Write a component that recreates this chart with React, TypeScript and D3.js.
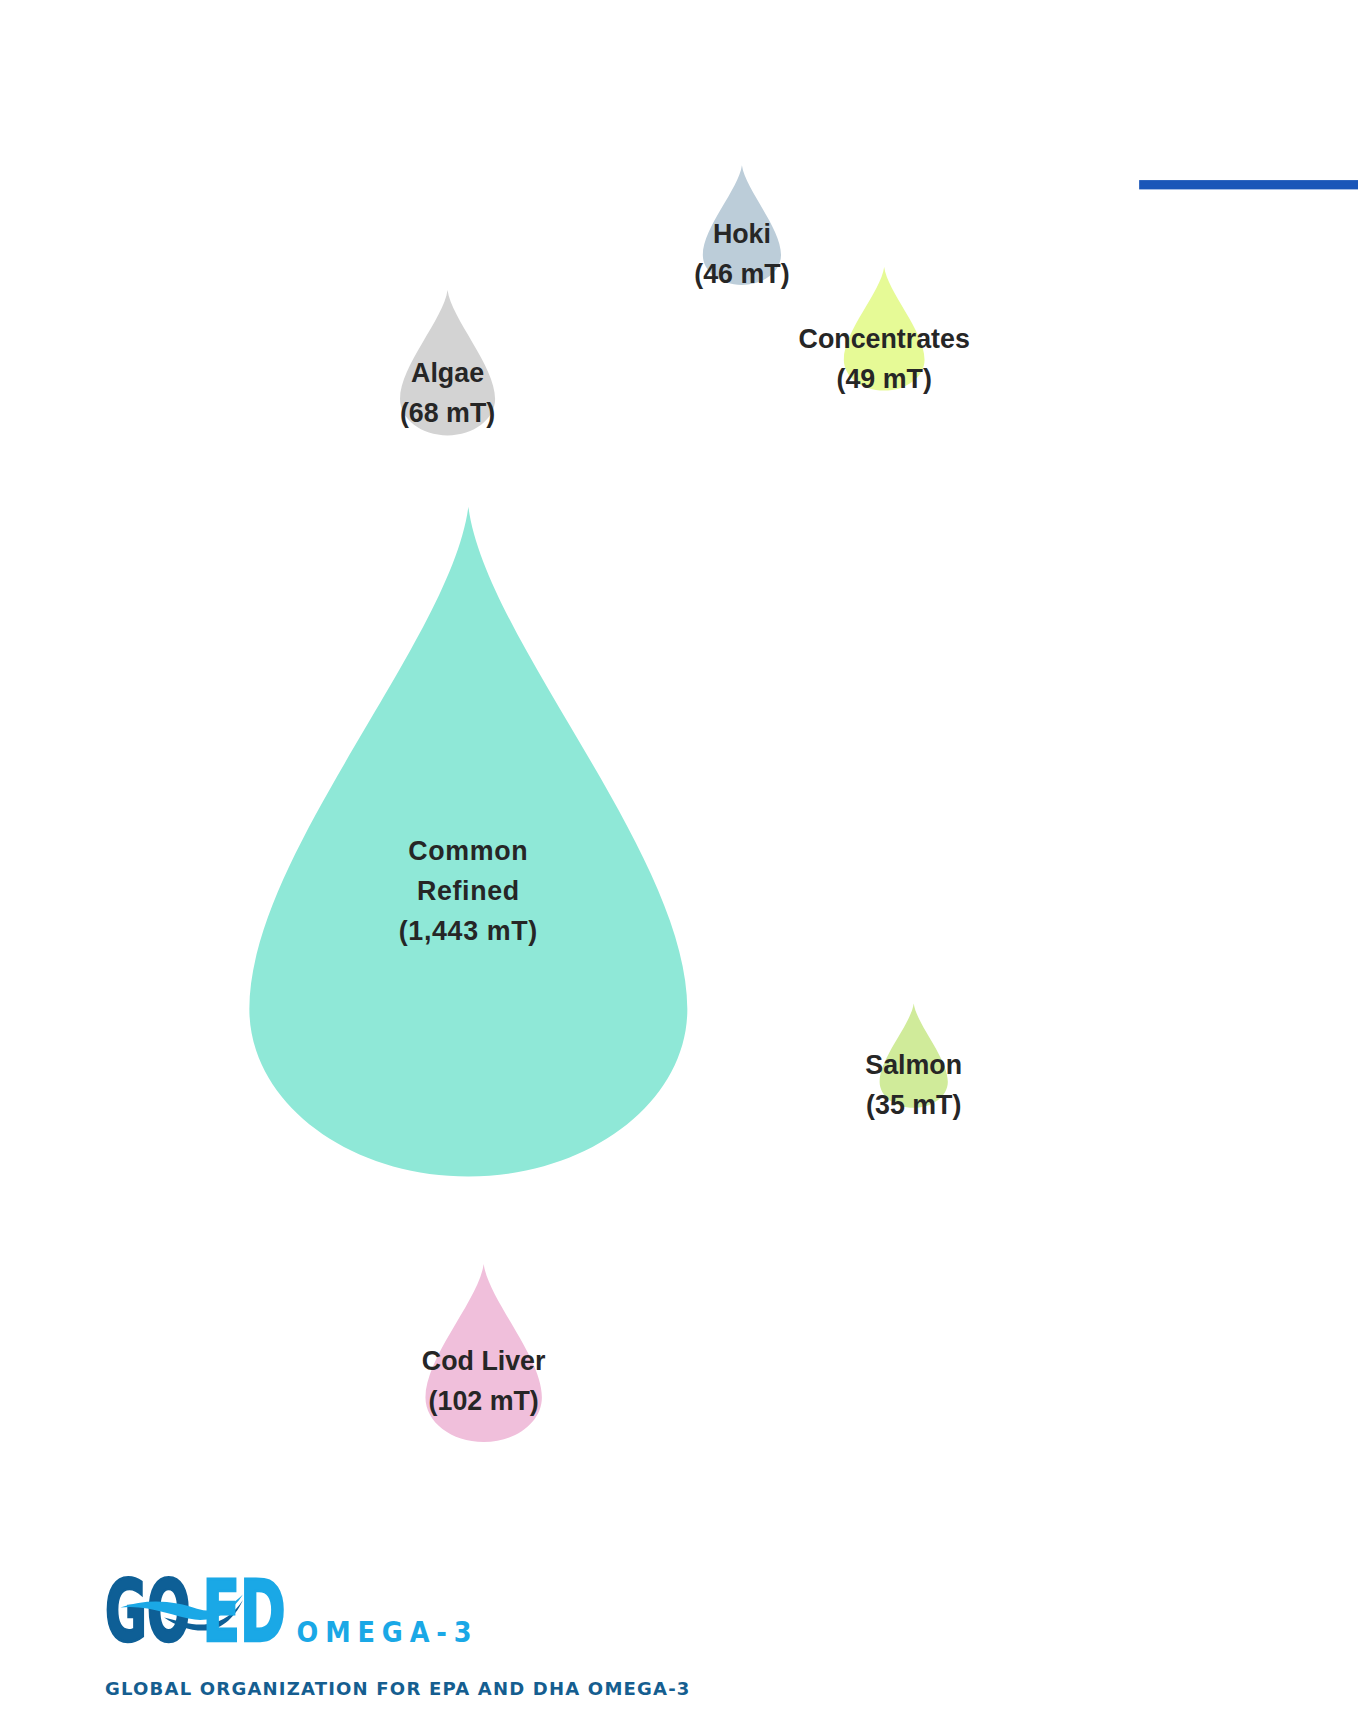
import React from "react";
import * as d3 from "d3";

// ---- data ----
const categories = ["Hoki", "Concentrates", "Algae", "Common Refined", "Salmon", "Cod Liver"];
const volumes = [46, 49, 68, 1443, 35, 102]; // metric tonnes (mT)
const nameLines = [["Hoki"], ["Concentrates"], ["Algae"], ["Common", "Refined"], ["Salmon"], ["Cod Liver"]];
const colors = ["#bccdd9", "#e6fa96", "#d3d3d3", "#8fe8d7", "#d0eb9a", "#f0bfdb"];
// layout (tip of drop, first label line centre) in 1241x1568 view units
const tipX = [678, 808, 409, 428, 835, 442];
const tipY = [151, 244, 265, 463, 917, 1155];
const labelY = [213, 309, 340, 777, 973, 1243];

const VW = 1241;
const VH = 1568;

const hScale = d3.scaleSqrt().domain([0, 1443]).range([0, 612]);

function dropPath(cx: number, ty: number, H: number): string {
  const hw = (H * 0.654) / 2;
  const p = d3.path();
  p.moveTo(cx, ty);
  p.bezierCurveTo(cx + 0.08 * hw, ty + 0.2 * H, cx + hw, ty + 0.52 * H, cx + hw, ty + 0.75 * H);
  const ry = 0.25 * H;
  const k = 0.5523;
  const by = ty + 0.75 * H;
  p.bezierCurveTo(cx + hw, by + k * ry, cx + k * hw, by + ry, cx, by + ry);
  p.bezierCurveTo(cx - k * hw, by + ry, cx - hw, by + k * ry, cx - hw, by);
  p.bezierCurveTo(cx - hw, ty + 0.52 * H, cx - 0.08 * hw, ty + 0.2 * H, cx, ty);
  p.closePath();
  return p.toString();
}

const fmt = d3.format(",");
const FS = 24.5;
const LH = 36.5;
const DARK = "#0e5f96";
const LIGHT = "#1aa8e6";

export default function App() {
  return (
    <div>
      <style>{"body{margin:0;background:#fff}"}</style>
      <svg width={1358} height={1716} viewBox={`0 0 ${VW} ${VH}`} style={{ display: "block" }}>
        <rect x={0} y={0} width={VW} height={VH} fill="#ffffff" />
        {/* blue accent line */}
        <rect x={1041} y={164.5} width={VW - 1041} height={8.5} fill="#1a56b8" />

        {categories.map((c, i) => (
          <path key={"d" + c} d={dropPath(tipX[i], tipY[i], hScale(volumes[i]))} fill={colors[i]} />
        ))}

        {categories.map((c, i) => {
          const lines = [...nameLines[i], `(${fmt(volumes[i])} mT)`];
          return (
            <g key={"l" + c}>
              {lines.map((t, j) => (
                <text
                  key={j}
                  x={tipX[i]}
                  y={labelY[i] + j * LH + FS * 0.36}
                  textAnchor="middle"
                  fontFamily="'Liberation Sans', Arial, sans-serif"
                  fontWeight="bold"
                  fontSize={FS}
                  fill="#262626"
                  letterSpacing={i === 3 ? 0.6 : 0}
                >
                  {t}
                </text>
              ))}
            </g>
          );
        })}

        {/* GOED logo */}
        <g>
          <text
            x={96}
            y={1500}
            fontFamily="'DejaVu Sans Condensed', 'DejaVu Sans', sans-serif"
            fontWeight="bold"
            fontSize={78}
            fill={DARK}
            stroke={DARK}
            strokeWidth={2.5}
            textLength={78}
            lengthAdjust="spacingAndGlyphs"
          >
            GO
          </text>
          <path
            d="M110,1469 C135,1460 160,1463 180,1470 C196,1475 210,1469 222,1457 C212,1473 196,1482 178,1480 C158,1477 135,1466 110,1469 Z"
            fill={LIGHT}
          />
          <path
            d="M150,1478 C165,1482 178,1486 190,1484 C204,1482 214,1474 222,1462 C214,1480 200,1490 186,1490 C172,1490 160,1485 150,1478 Z"
            fill={DARK}
          />
          <text
            x={185}
            y={1500}
            fontFamily="'DejaVu Sans Condensed', 'DejaVu Sans', sans-serif"
            fontWeight="bold"
            fontSize={78}
            fill={LIGHT}
            stroke={LIGHT}
            strokeWidth={2.5}
            textLength={76}
            lengthAdjust="spacingAndGlyphs"
          >
            ED
          </text>
          <text
            x={271}
            y={1500.5}
            fontFamily="'DejaVu Sans Condensed', 'DejaVu Sans', sans-serif"
            fontWeight="bold"
            fontSize={26}
            fill={LIGHT}
            textLength={160}
            lengthAdjust="spacing"
          >
            OMEGA-3
          </text>
          <text
            x={96}
            y={1549}
            fontFamily="'DejaVu Sans', sans-serif"
            fontWeight="bold"
            fontSize={16.5}
            fill="#155e90"
            textLength={534}
            lengthAdjust="spacing"
          >
            GLOBAL ORGANIZATION FOR EPA AND DHA OMEGA-3
          </text>
        </g>
      </svg>
    </div>
  );
}
